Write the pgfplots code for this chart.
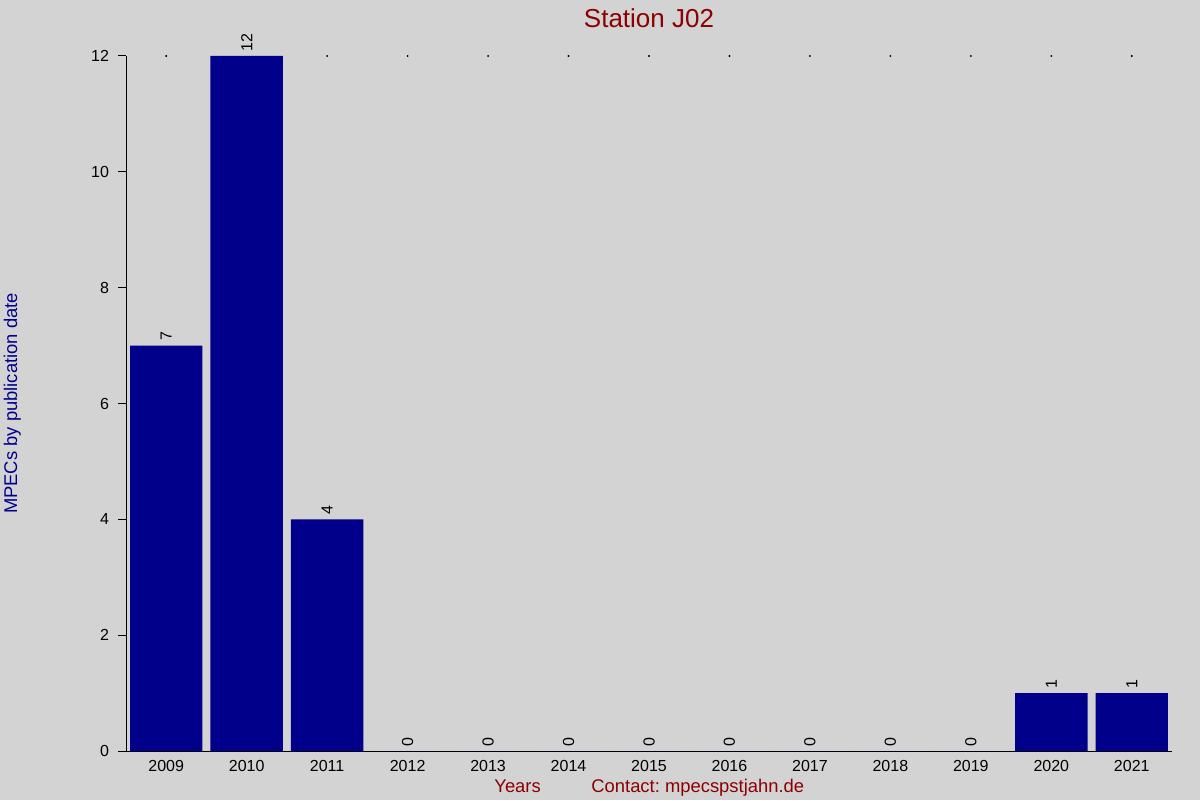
\documentclass[border=0pt]{standalone}
\usepackage{pgfplots}
\pgfplotsset{compat=1.18}
\usepackage{fontspec}
\setmainfont{Liberation Sans}
\definecolor{bgray}{HTML}{D3D3D3}
\definecolor{barblue}{HTML}{00008B}
\definecolor{tred}{HTML}{8B0000}
\newcommand{\tickfont}{\fontsize{8}{9.6}\selectfont}
\newcommand{\labfont}{\fontsize{9.2}{11}\selectfont}
\begin{document}
\frenchspacing
\begin{tikzpicture}
% canvas: 1 px of the reference = 0.5pt
\fill[bgray] (0,0) rectangle (600pt,400pt);
\useasboundingbox (0,0) rectangle (600pt,400pt);
\begin{axis}[
  at={(63pt,24.5pt)}, anchor=south west,
  scale only axis,
  width=523pt, height=347.5pt,
  xmin=-0.5, xmax=12.5,
  ymin=0, ymax=12,
  axis x line=bottom, axis y line=left,
  axis line style={-, black, line width=0.5pt},
  xtick={0,...,12},
  xticklabels={2009,2010,2011,2012,2013,2014,2015,2016,2017,2018,2019,2020,2021},
  ytick={0,2,4,6,8,10,12},
  x tick style={draw=none},
  y tick style={black, line width=0.5pt},
  tick align=outside,
  major tick length=4pt,
  ticklabel style={font=\tickfont},
  xticklabel style={yshift=3pt},
  yticklabel style={xshift=-1pt},
  /pgf/number format/assume math mode=true,
  clip=false,
]
% small dots along the top edge (the 2010 one is hidden by its bar)
\addplot[only marks, mark=*, mark size=0.25pt, black]
  coordinates {(0,12)(2,12)(3,12)(4,12)(5,12)(6,12)(7,12)(8,12)(9,12)(10,12)(11,12)(12,12)};
\addplot[ybar, bar width=0.9, fill=barblue, draw=none,
  nodes near coords,
  every node near coord/.append style={font=\tickfont, black, rotate=90, anchor=west, inner sep=1pt, xshift=1.2pt}]
  coordinates {(0,7)(1,12)(2,4)(3,0)(4,0)(5,0)(6,0)(7,0)(8,0)(9,0)(10,0)(11,1)(12,1)};
\end{axis}
\node[anchor=base, text=tred, font=\fontsize{13}{15.6}\selectfont] at (324.5pt,386pt) {Station J02};
\node[anchor=base west, text=tred, font=\labfont, inner sep=0pt] at (247pt,4pt) {Years};
\node[anchor=base west, text=tred, font=\labfont, inner sep=0pt] at (295.5pt,4pt) {Contact: mpecspstjahn.de};
\node[anchor=base, rotate=90, text=barblue, font=\labfont, inner sep=0pt] at (8.5pt,198.25pt) {MPECs by publication date};
\end{tikzpicture}
\end{document}
